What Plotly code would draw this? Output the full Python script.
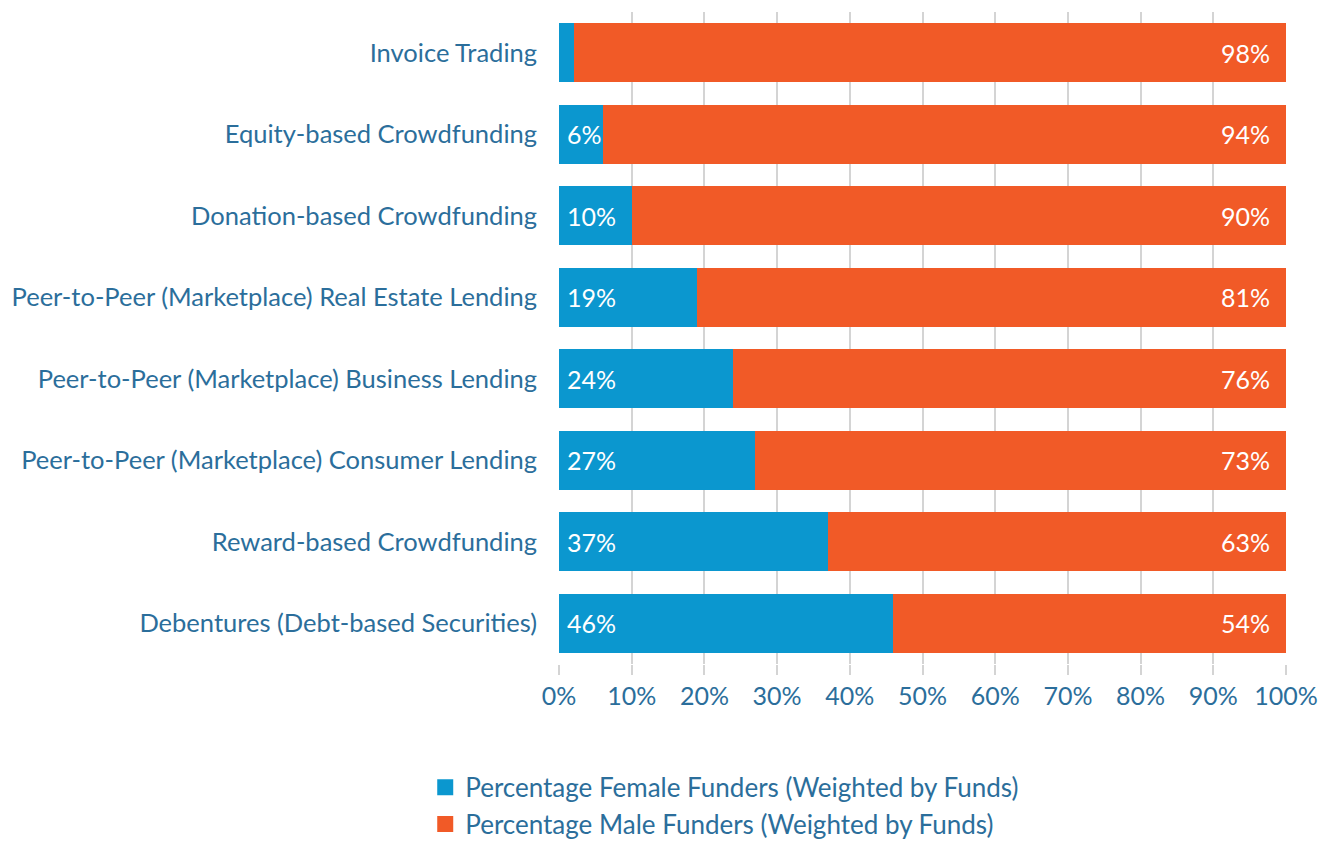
import plotly.graph_objects as go

categories = [
    "Invoice Trading",
    "Equity-based Crowdfunding",
    "Donation-based Crowdfunding",
    "Peer-to-Peer (Marketplace) Real Estate Lending",
    "Peer-to-Peer (Marketplace) Business Lending",
    "Peer-to-Peer (Marketplace) Consumer Lending",
    "Reward-based Crowdfunding",
    "Debentures (Debt-based Securities)",
]
female = [2, 6, 10, 19, 24, 27, 37, 46]
male = [98, 94, 90, 81, 76, 73, 63, 54]
tick_vals = [0, 10, 20, 30, 40, 50, 60, 70, 80, 90, 100]
tick_text = [f"{v}%" for v in tick_vals]

BLUE = "#0B97CF"
ORANGE = "#F15A27"
TEXT = "#2B6E9B"
FONT = "Lato"
FS = 25.5

fig = go.Figure()
fig.add_trace(go.Bar(
    y=categories, x=female, orientation="h", marker=dict(color=BLUE, line=dict(width=0)),
    name="Percentage Female Funders (Weighted by Funds)",
    showlegend=False, hoverinfo="x+y",
))
fig.add_trace(go.Bar(
    y=categories, x=male, orientation="h", marker=dict(color=ORANGE, line=dict(width=0)),
    name="Percentage Male Funders (Weighted by Funds)",
    showlegend=False, hoverinfo="x+y",
))
for nm, col in [("Percentage Female Funders (Weighted by Funds)", BLUE),
                ("Percentage Male Funders (Weighted by Funds)", ORANGE)]:
    fig.add_trace(go.Scatter(x=[None], y=[None], mode="markers", name=nm,
                             marker=dict(symbol="square", size=22, color=col)))

annotations = []
for cat, f, m in zip(categories, female, male):
    if f >= 5:
        annotations.append(dict(x=0, y=cat, xref="x", yref="y", text=f"{f}%",
                                showarrow=False, xanchor="left", xshift=6,
                                font=dict(color="white", size=25, family=FONT)))
    annotations.append(dict(x=f + m, y=cat, xref="x", yref="y", text=f"{m}%",
                            showarrow=False, xanchor="right", xshift=-14,
                            font=dict(color="white", size=25, family=FONT)))

fig.update_layout(
    barmode="stack",
    bargap=0.28,
    width=1335, height=841,
    margin=dict(l=551, r=57, t=4, b=185, autoexpand=False),
    plot_bgcolor="white", paper_bgcolor="white",
    font=dict(family=FONT, color=TEXT, size=FS),
    xaxis=dict(range=[0, 100], tickvals=tick_vals, ticktext=tick_text,
               showgrid=True, gridcolor="#d4d4d4", gridwidth=1.5,
               ticks="outside", ticklen=10, tickcolor="#d4d4d4", tickwidth=1.5,
               zeroline=False, showline=False, automargin=False,
               tickfont=dict(size=25, color=TEXT, family=FONT)),
    yaxis=dict(autorange="reversed", ticklabelstandoff=21, automargin=False,
               tickfont=dict(size=FS, color=TEXT, family=FONT), showgrid=False),
    legend=dict(orientation="v", x=-0.184, xanchor="left", y=-0.153, yanchor="top",
                font=dict(size=26, color=TEXT, family=FONT), tracegroupgap=0,
                traceorder="normal", itemwidth=30),
    annotations=annotations,
)

fig.write_html("out.html")
